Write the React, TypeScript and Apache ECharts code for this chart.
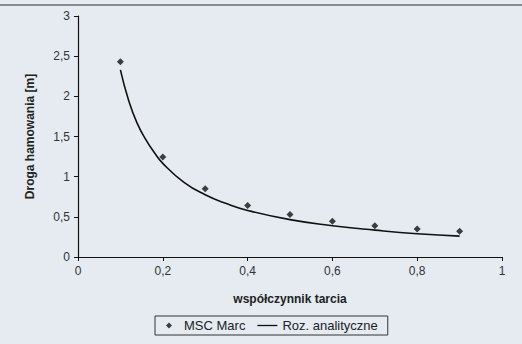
import React, { useEffect, useRef } from "react";
import * as echarts from "echarts";

const mscX = [0.1, 0.2, 0.3, 0.4, 0.5, 0.6, 0.7, 0.8, 0.9];
const mscY = [2.43, 1.245, 0.85, 0.64, 0.53, 0.445, 0.39, 0.35, 0.32];

const anaX = [0.1, 0.12, 0.14, 0.16, 0.18, 0.2, 0.25, 0.3, 0.35, 0.4, 0.5, 0.6, 0.7, 0.8, 0.9];
const anaY = [2.33, 1.94, 1.66, 1.46, 1.3, 1.165, 0.93, 0.775, 0.665, 0.58, 0.465, 0.39, 0.335, 0.29, 0.26];

const xTicks = { min: 0, max: 1, interval: 0.2 };
const yTicks = { min: 0, max: 3, interval: 0.5 };

const FONT = "Liberation Sans";

export default function App() {
  const ref = useRef<HTMLDivElement>(null);
  useEffect(() => {
    const chart = echarts.init(ref.current!, null, { renderer: "svg" });
    const fmt = (v: number) => String(Math.round(v * 10) / 10).replace(".", ",");
    chart.setOption({
      animation: false,
      backgroundColor: "#e5ebf1",
      textStyle: { fontFamily: FONT },
      grid: { left: 78, right: 20, top: 16, bottom: 87 },
      graphic: [
        { type: "line", shape: { x1: 0, y1: 5, x2: 522, y2: 5 }, style: { stroke: "#6a6a6a", lineWidth: 1.5 } },
      ],
      xAxis: {
        type: "value",
        min: xTicks.min,
        max: xTicks.max,
        interval: xTicks.interval,
        name: "współczynnik tarcia",
        nameLocation: "middle",
        nameGap: 36,
        nameTextStyle: { fontFamily: FONT, fontSize: 12, fontWeight: "bold", color: "#222" },
        axisLine: { lineStyle: { color: "#111", width: 1.2 } },
        axisTick: { show: true, length: 4, lineStyle: { color: "#111" } },
        axisLabel: { formatter: fmt, fontSize: 12, color: "#333", margin: 8, fontFamily: FONT },
        splitLine: { show: false },
      },
      yAxis: {
        type: "value",
        min: yTicks.min,
        max: yTicks.max,
        interval: yTicks.interval,
        name: "Droga hamowania [m]",
        nameLocation: "middle",
        nameGap: 42,
        nameTextStyle: { fontFamily: FONT, fontSize: 12, fontWeight: "bold", color: "#222" },
        axisLine: { show: true, lineStyle: { color: "#111", width: 1.2 } },
        axisTick: { show: true, length: 4, lineStyle: { color: "#111" } },
        axisLabel: { formatter: fmt, fontSize: 12, color: "#333", margin: 8, fontFamily: FONT },
        splitLine: { show: false },
      },
      legend: {
        left: 155,
        top: 316,
        orient: "horizontal",
        borderColor: "#333",
        borderWidth: 1,
        padding: [3, 10, 3, 11],
        itemGap: 12,
        itemWidth: 20,
        itemHeight: 6,
        textStyle: { fontFamily: FONT, fontSize: 13, color: "#222" },
        data: [
          { name: "MSC Marc", icon: "path://M5,0 L10,5 L5,10 L0,5 Z" },
          { name: "Roz. analityczne", icon: "path://M0,0 L20,0 L20,1.3 L0,1.3 Z" },
        ],
      },
      series: [
        {
          name: "Roz. analityczne",
          type: "line",
          data: anaX.map((x, i) => [x, anaY[i]]),
          smooth: true,
          showSymbol: false,
          symbol: "none",
          lineStyle: { color: "#111", width: 1.6 },
          itemStyle: { color: "#111" },
          z: 2,
        },
        {
          name: "MSC Marc",
          type: "scatter",
          data: mscX.map((x, i) => [x, mscY[i]]),
          symbol: "diamond",
          symbolSize: 7,
          itemStyle: { color: "#111" },
          z: 3,
        },
      ],
    });
    return () => chart.dispose();
  }, []);
  return <div ref={ref} style={{ position: "fixed", left: 0, top: 0, width: 522, height: 344 }} />;
}
